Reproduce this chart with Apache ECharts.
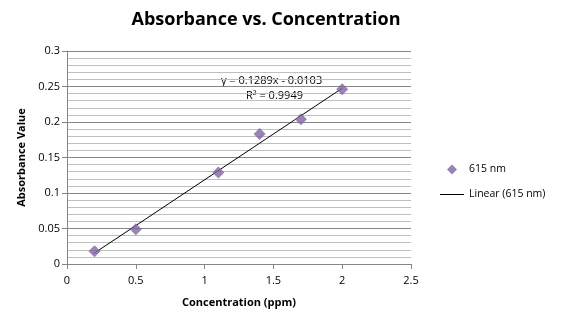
<!DOCTYPE html>
<html>
<head>
<meta charset="utf-8">
<script src="https://cdn.jsdelivr.net/npm/echarts@6/dist/echarts.min.js"></script>
<style>html,body{margin:0;padding:0;background:#fff}#c{width:567px;height:323px}</style>
</head>
<body>
<div id="c"></div>
<script>
var concentration = [0.2, 0.5, 1.1, 1.4, 1.7, 2.0];
var absorbance = [0.018, 0.049, 0.129, 0.183, 0.204, 0.246];
var xTicks = [0, 0.5, 1, 1.5, 2, 2.5];
var yTicks = [0, 0.05, 0.1, 0.15, 0.2, 0.25, 0.3];
var slope = 0.1289;
var intercept = -0.0103;
var trendX = [0.2, 2.0];

var font = 'Open Sans';
var points = concentration.map(function (x, i) { return [x, absorbance[i]]; });
var trend = trendX.map(function (x) { return [x, slope * x + intercept]; });

var chart = echarts.init(document.getElementById('c'));
chart.setOption({
  animation: false,
  title: {
    text: 'Absorbance vs. Concentration',
    left: 261, textAlign: 'center', top: 6,
    textStyle: { fontFamily: font, fontWeight: 'bold', fontSize: 18, color: '#000' }
  },
  grid: { left: 67, right: 156, top: 51, bottom: 59 },
  legend: {
    orient: 'vertical', left: 440, top: 164, itemGap: 14, padding: 0,
    itemWidth: 24, itemHeight: 10,
    textStyle: { fontFamily: font, fontSize: 10.5, color: '#000' },
    data: [
      { name: '615 nm', icon: 'path://M5,0 L10,5 L5,10 L0,5 Z', itemStyle: { color: '#8064A2' } },
      { name: 'Linear (615 nm)', icon: 'path://M0,0 L24,0 L24,1 L0,1 Z', itemStyle: { color: '#000' } }
    ]
  },
  xAxis: {
    type: 'value', min: xTicks[0], max: xTicks[xTicks.length - 1], interval: 0.5,
    name: 'Concentration (ppm)', nameLocation: 'middle', nameGap: 33,
    nameTextStyle: { fontFamily: font, fontWeight: 'bold', fontSize: 11, color: '#000' },
    axisLine: { lineStyle: { color: '#868686' } },
    axisTick: { show: true, length: 5, lineStyle: { color: '#868686' } },
    axisLabel: { fontFamily: font, fontSize: 11, color: '#000', margin: 11 },
    splitLine: { show: false }
  },
  yAxis: {
    type: 'value', min: yTicks[0], max: yTicks[yTicks.length - 1], interval: 0.05,
    name: 'Absorbance Value', nameLocation: 'middle', nameGap: 40,
    nameTextStyle: { fontFamily: font, fontWeight: 'bold', fontSize: 11, color: '#000' },
    axisLine: { show: true, lineStyle: { color: '#868686' } },
    axisTick: { show: true, length: 5, lineStyle: { color: '#868686' } },
    axisLabel: { fontFamily: font, fontSize: 11, color: '#000', margin: 7 },
    splitLine: { show: true, lineStyle: { color: '#868686', width: 1 } },
    minorTick: { show: false, splitNumber: 5 },
    minorSplitLine: { show: true, lineStyle: { color: '#bfbfbf', width: 1 } }
  },
  graphic: [
    { type: 'text', left: 221, top: 75, style: { text: 'y = 0.1289x - 0.0103', fontFamily: font, fontSize: 11, fill: '#000' } },
    { type: 'text', left: 246, top: 90, style: { text: 'R² = 0.9949', fontFamily: font, fontSize: 11, fill: '#000' } }
  ],
  series: [
    {
      name: 'Linear (615 nm)', type: 'line', data: trend, symbol: 'none',
      lineStyle: { color: '#000', width: 1 }, itemStyle: { color: '#000' }, z: 2
    },
    {
      name: '615 nm', type: 'scatter', data: points, symbol: 'diamond', symbolSize: 12,
      itemStyle: { color: '#8064A2' }, z: 3
    }
  ]
});
</script>
</body>
</html>
